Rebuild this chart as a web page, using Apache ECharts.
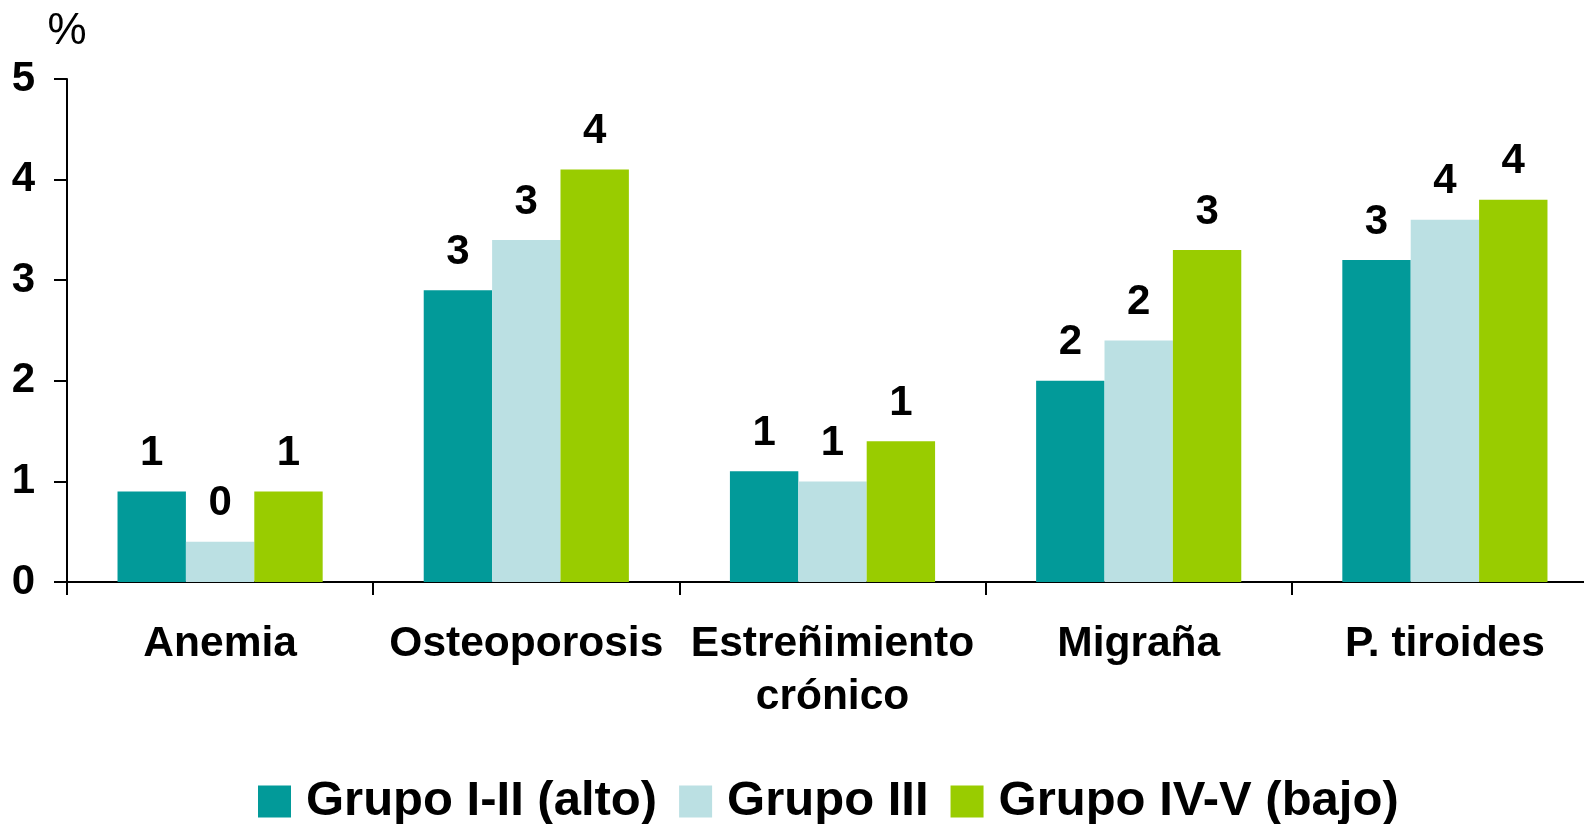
<!DOCTYPE html>
<html>
<head>
<meta charset="utf-8">
<script src="https://cdn.jsdelivr.net/npm/echarts@6/dist/echarts.min.js"></script>
<style>
html,body{margin:0;padding:0;background:#fff;}
#chart{width:1584px;height:824px;}
</style>
</head>
<body>
<div id="chart"></div>
<script>
var categories = ['Anemia', 'Osteoporosis', 'Estreñimiento\ncrónico', 'Migraña', 'P. tiroides'];
var seriesNames = ['Grupo I-II (alto)', 'Grupo III', 'Grupo IV-V (bajo)'];
var grupoAlto = [0.9, 2.9, 1.1, 2.0, 3.2];
var grupoMedio = [0.4, 3.4, 1.0, 2.4, 3.6];
var grupoBajo = [0.9, 4.1, 1.4, 3.3, 3.8];
var yTicks = [0, 1, 2, 3, 4, 5];
var colors = ['#029A99', '#BBE0E3', '#99CC00'];

var FONT = '"Liberation Sans", Arial, Helvetica, sans-serif';
var chart = echarts.init(document.getElementById('chart'));

function mkSeries(name, data, color) {
  return {
    name: name,
    type: 'bar',
    data: data,
    barGap: '0%',
    barCategoryGap: '33%',
    itemStyle: { color: color },
    label: {
      show: true,
      position: 'top',
      distance: 17,
      color: '#000',
      fontFamily: FONT,
      fontWeight: 'bold',
      fontSize: 42,
      formatter: function (p) { return String(Math.round(p.value)); }
    }
  };
}

chart.setOption({
  animation: false,
  backgroundColor: '#ffffff',
  grid: { left: 67, top: 79, width: 1531, height: 503, containLabel: false, outerBoundsMode: 'none' },
  legend: {
    data: seriesNames,
    left: 258,
    top: 777,
    padding: 0,
    itemWidth: 33,
    itemHeight: 32,
    itemGap: 22,
    icon: 'rect',
    textStyle: {
      fontFamily: FONT,
      fontWeight: 'bold',
      fontSize: 49,
      color: '#000',
      lineHeight: 32,
      padding: [0, 0, 0, 10]
    }
  },
  xAxis: {
    type: 'category',
    data: categories,
    axisLine: { lineStyle: { color: '#000', width: 2 } },
    axisTick: { show: true, length: 13, lineStyle: { color: '#000', width: 2 } },
    axisLabel: {
      interval: 0,
      margin: 36,
      color: '#000',
      fontFamily: FONT,
      fontWeight: 'bold',
      fontSize: 42.5,
      lineHeight: 53
    },
    splitLine: { show: false }
  },
  yAxis: {
    type: 'value',
    min: yTicks[0],
    max: yTicks[yTicks.length - 1],
    interval: 1,
    name: '%',
    nameLocation: 'end',
    nameGap: 25,
    nameTextStyle: {
      color: '#000',
      fontFamily: FONT,
      fontSize: 44,
      align: 'center'
    },
    axisLine: { show: true, lineStyle: { color: '#000', width: 2 } },
    axisTick: { show: true, length: 13, lineStyle: { color: '#000', width: 2 } },
    axisLabel: {
      margin: 32,
      color: '#000',
      fontFamily: FONT,
      fontWeight: 'bold',
      fontSize: 42
    },
    splitLine: { show: false }
  },
  series: [
    mkSeries(seriesNames[0], grupoAlto, colors[0]),
    mkSeries(seriesNames[1], grupoMedio, colors[1]),
    mkSeries(seriesNames[2], grupoBajo, colors[2])
  ]
});
</script>
</body>
</html>
